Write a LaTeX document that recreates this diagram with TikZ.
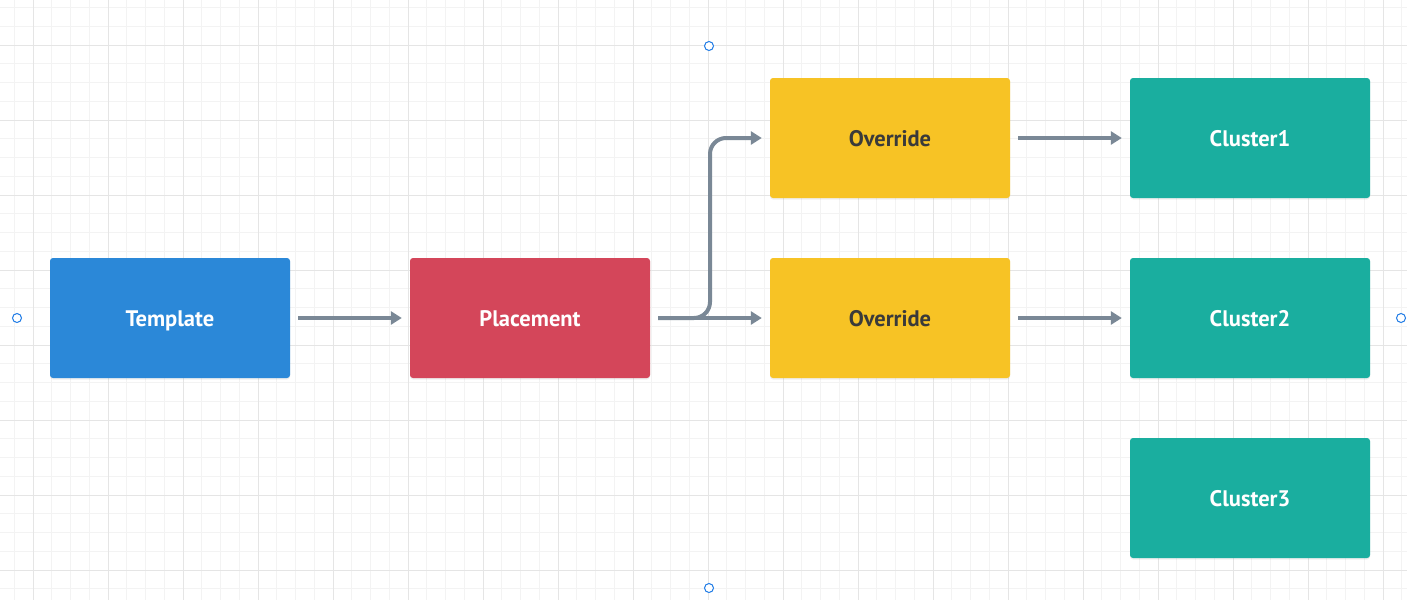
\documentclass[tikz,border=0pt]{standalone}
\usepackage{fontspec}
\setmainfont{PT Sans}
\usetikzlibrary{arrows.meta,shadows}
\definecolor{gridminor}{HTML}{F3F3F3}
\definecolor{gridmajor}{HTML}{E5E5E5}
\definecolor{cblue}{HTML}{2B88D8}
\definecolor{cred}{HTML}{D4465A}
\definecolor{cyellow}{HTML}{F7C325}
\definecolor{cteal}{HTML}{1AAE9F}
\definecolor{carrow}{HTML}{7A8896}
\definecolor{ctextdark}{HTML}{3A3A3A}
\definecolor{chandle}{HTML}{1E7BE6}
\tikzset{
  box/.style={rectangle, rounded corners=3pt, minimum width=240pt, minimum height=120pt, inner sep=0pt,
    font=\fontsize{22.5}{26}\selectfont\bfseries, text height=16pt, text depth=0pt,
    drop shadow={opacity=0.12, shadow xshift=0pt, shadow yshift=-1.5pt}},
  arr/.style={draw=carrow, line width=4pt, -{Triangle[length=11pt,width=13pt]}},
  handle/.style={circle, draw=chandle, fill=white, line width=1pt, minimum size=9pt, inner sep=0pt}
}
\begin{document}
\begin{tikzpicture}[x=1pt,y=-1pt]
\useasboundingbox (0,0) rectangle (1407,600);
\fill[white] (0,0) rectangle (1407,600);
% minor grid
\foreach \i in {0,...,75} {
  \draw[gridminor, line width=1pt] ({14.25+18.75*\i},0) -- ({14.25+18.75*\i},600);
}
\foreach \j in {0,...,32} {
  \draw[gridminor, line width=1pt] (0,{7.5+18.75*\j}) -- (1407,{7.5+18.75*\j});
}
% major grid
\foreach \i in {0,...,18} {
  \draw[gridmajor, line width=1pt] ({33+75*\i},0) -- ({33+75*\i},600);
}
\foreach \j in {0,...,7} {
  \draw[gridmajor, line width=1pt] (0,{45+75*\j}) -- (1407,{45+75*\j});
}
% boxes
\node[box, fill=cblue, text=white] (tmpl) at (170,318) {Template};
\node[box, fill=cred, text=white] (plc) at (530,318) {Placement};
\node[box, fill=cyellow, text=ctextdark] (ov1) at (890,138) {Override};
\node[box, fill=cyellow, text=ctextdark] (ov2) at (890,318) {Override};
\node[box, fill=cteal, text=white] (cl1) at (1250,138) {Cluster1};
\node[box, fill=cteal, text=white] (cl2) at (1250,318) {Cluster2};
\node[box, fill=cteal, text=white] (cl3) at (1250,498) {Cluster3};
% arrows
\draw[arr] ([xshift=8pt]tmpl.east) -- ([xshift=-8pt]plc.west);
\draw[arr] ([xshift=8pt]plc.east) -- ([xshift=-8pt]ov2.west);
\draw[arr, rounded corners=16pt] ([xshift=8pt]plc.east) -- (710,318) -- (710,138) -- ([xshift=-8pt]ov1.west);
\draw[arr] ([xshift=8pt]ov1.east) -- ([xshift=-8pt]cl1.west);
\draw[arr] ([xshift=8pt]ov2.east) -- ([xshift=-8pt]cl2.west);
% selection handles
\node[handle] (h1) at (709,46) {};
\node[handle] (h2) at (17,318) {};
\node[handle] (h3) at (1401,318) {};
\node[handle] (h4) at (709,588) {};
\end{tikzpicture}
\end{document}
